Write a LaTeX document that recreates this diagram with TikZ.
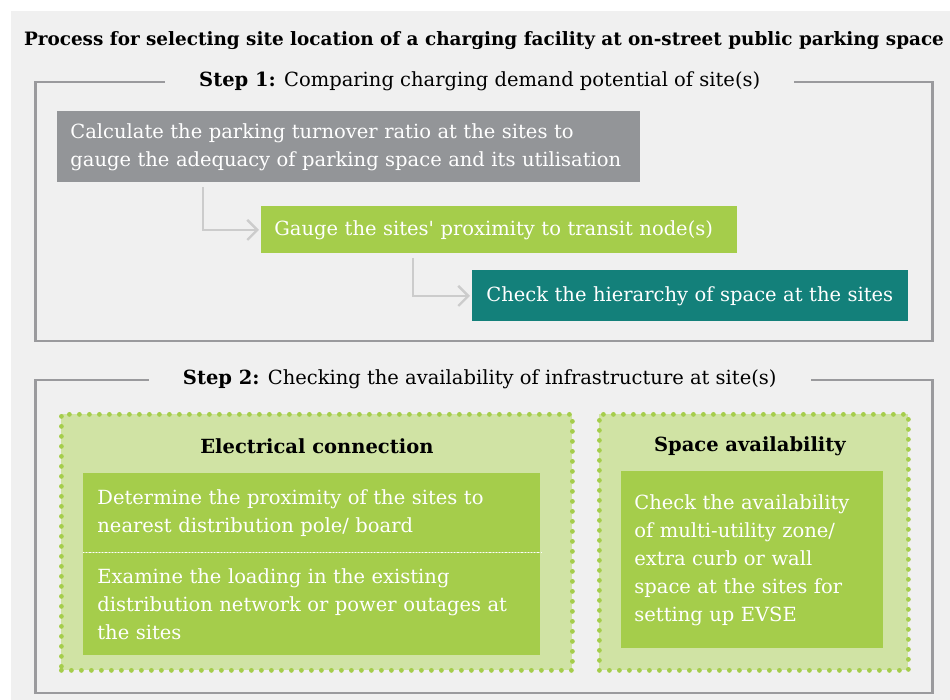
\documentclass[tikz,border=0pt]{standalone}
\usepackage{fontspec}
\setmainfont{DejaVu Serif}
\usetikzlibrary{arrows.meta,calc,positioning}

\definecolor{bggray}{HTML}{F0F0F0}
\definecolor{framegray}{HTML}{9A9A9D}
\definecolor{boxgray}{HTML}{939598}
\definecolor{leafgreen}{HTML}{A5CD4B}
\definecolor{palegreen}{HTML}{D0E3A4}
\definecolor{teal}{HTML}{13807A}
\definecolor{arrowgray}{HTML}{CCCCCC}

\newcommand\bodyfont{\fontsize{9.75}{14}\selectfont}
\newcommand\titlefont{\fontsize{9.2}{11}\selectfont\bfseries}

\tikzset{
  stepframe/.style={draw=framegray, line width=1.25pt, minimum width=448.5pt, anchor=north west, inner sep=0pt},
  steplabel/.style={fill=bggray, inner xsep=17pt, inner ysep=2pt, font=\bodyfont},
  textbox/.style={anchor=north west, inner xsep=6.5pt, inner ysep=0pt, align=left, text=white, font=\bodyfont},
  graybox/.style={textbox, fill=boxgray},
  greenbox/.style={textbox, fill=leafgreen},
  tealbox/.style={textbox, fill=teal, inner xsep=7pt},
  groupbox/.style={draw=leafgreen, fill=palegreen, line width=2.4pt, dash pattern=on 0pt off 5pt, line cap=round, anchor=north west, inner sep=0pt},
  heading/.style={font=\bodyfont\bfseries},
  flowarrow/.style={draw=arrowgray, line width=1.2pt, -{Straight Barb[length=5pt, width=10pt]}, shorten <=2pt, shorten >=1pt},
  sepline/.style={draw=white, line width=0.6pt, dash pattern=on 0.6pt off 1pt}
}

\begin{document}
\begin{tikzpicture}[x=0.5pt, y=-0.5pt]
\useasboundingbox (0,0) rectangle (950,700);
\fill[bggray] (11,11) rectangle (950,700);

%title
\node[font=\titlefont, anchor=base] (title) at (484,46) {Process for selecting site location of a charging facility at on-street public parking space};

%step 1
\node[stepframe, minimum height=129.5pt] (step1) at (34,81) {};
\node[steplabel] (step1label) at ([xshift=-2pt]step1.north) {\textbf{Step 1:} Comparing charging demand potential of site(s)};

\node[graybox, minimum height=35.5pt, text width=278.5pt] (calc) at (57,111) {Calculate the parking turnover ratio at the sites to\\gauge the adequacy of parking space and its utilisation};
\node[greenbox, minimum height=23.5pt, text width=225pt] (gauge) at (261,206) {Gauge the sites\textquotesingle{} proximity to transit node(s)};
\node[tealbox, minimum height=25.5pt, text width=204pt] (check) at (472,270) {Check the hierarchy of space at the sites};

%arrows
\draw[flowarrow] ([xshift=73pt]calc.south west) |- (gauge.west);
\draw[flowarrow] ([xshift=76pt]gauge.south west) |- (check.west);

%step 2
\node[stepframe, minimum height=156.5pt] (step2) at (34,379) {};
\node[steplabel, inner xsep=17pt] (step2label) at ([xshift=-2pt]step2.north) {\textbf{Step 2:} Checking the availability of infrastructure at site(s)};

%electrical connection
\node[groupbox, minimum width=255.5pt, minimum height=128pt] (elec) at (59,412) {};
\node[heading] (elechead) at ([yshift=-17pt]elec.north) {Electrical connection};
\node[greenbox, minimum height=39.5pt, text width=214.5pt, inner xsep=7pt] (elecA) at (83,473) {Determine the proximity of the sites to\\nearest distribution pole/ board};
\node[greenbox, minimum height=51pt, text width=214.5pt, inner xsep=7pt, below=0pt of elecA] (elecB) {Examine the loading in the existing\\distribution network or power outages at\\the sites};
\draw[sepline] (elecA.south west) -- (elecA.south east);

%space availability
\node[groupbox, minimum width=154.5pt, minimum height=128pt] (space) at (597,412) {};
\node[heading] (spacehead) at ([xshift=-2pt, yshift=-17pt]space.north) {Space availability};
\node[greenbox, minimum height=88.5pt, text width=118pt] (spacebox) at (621,471) {Check the availability\\of multi-utility zone/\\extra curb or wall\\space at the sites for\\setting up EVSE};

\end{tikzpicture}
\end{document}
